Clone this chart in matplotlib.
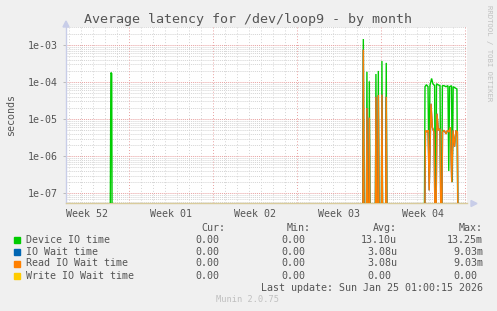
import numpy as np
import matplotlib
matplotlib.use('Agg')
from matplotlib import pyplot as plt
from matplotlib.patches import Rectangle, Polygon

# time axis: days since Mon Dec 29 2025 00:00 (start of Week 01)
week_starts = [0, 7, 14, 21, 28]
week_labels = ['Week 52', 'Week 01', 'Week 02', 'Week 03', 'Week 04']
week_label_pos = [-3.5, 3.5, 10.5, 17.5, 24.5]

# Device IO time (seconds)
t_device = [-1.58, -1.51, -1.44, -1.40,
            19.46, 19.53, 19.60, 19.77, 19.83, 19.90, 19.97, 20.03, 20.10,
            20.52, 20.58, 20.65, 20.72, 20.78, 20.85, 21.02, 21.08, 21.15,
            21.37, 21.44, 21.51,
            24.60, 24.67, 24.79, 24.92, 25.00, 25.08, 25.22, 25.33, 25.47,
            25.55, 25.63, 25.75, 25.92, 26.03, 26.12, 26.25, 26.42, 26.58,
            26.65, 26.72, 26.88, 26.94, 27.02, 27.17, 27.33, 27.43]
v_device = [0, 1.8e-4, 1.7e-4, 0,
            0, 1.45e-3, 0, 0, 1.9e-4, 0, 0, 1.05e-4, 0,
            0, 1.65e-4, 0, 0, 2.0e-4, 0, 0, 3.7e-4, 0,
            0, 3.3e-4, 0,
            0, 7.5e-5, 8.5e-5, 7.5e-5, 3e-7, 8e-5, 1.25e-4, 9e-5, 8e-5,
            0, 9e-5, 8.5e-5, 8e-5, 0, 8e-5, 8e-5, 7.5e-5, 8e-5,
            4e-7, 7.5e-5, 8e-5, 2e-7, 7.5e-5, 7e-5, 6.5e-5, 0]

# Read IO Wait time (IO Wait time is identical)
t_read = [19.48, 19.53, 19.60, 19.77, 19.83, 19.90, 19.97, 20.03, 20.10,
          20.52, 20.58, 20.65, 20.72, 20.78, 20.85, 21.02, 21.08, 21.15,
          21.37, 21.44, 21.51,
          24.62, 24.71, 24.83, 24.93, 25.02, 25.17, 25.28, 25.42, 25.55,
          25.67, 25.78, 25.92, 26.03, 26.13, 26.27, 26.42, 26.55, 26.67,
          26.78, 26.90, 27.00, 27.13, 27.25, 27.37, 27.43]
v_read = [0, 7.5e-4, 0, 0, 2e-5, 0, 0, 1.1e-5, 0,
          0, 4e-5, 0, 0, 4.5e-5, 0, 0, 4.6e-5, 0,
          0, 4e-5, 0,
          0, 5e-6, 4.5e-6, 5e-6, 1.2e-7, 2.6e-5, 6e-6, 4.5e-6, 0,
          1.4e-5, 5e-6, 5.5e-6, 0, 4.5e-6, 5e-6, 4e-6, 5e-6, 4.5e-6,
          6e-6, 2e-7, 5e-6, 1.8e-6, 5e-6, 4.5e-6, 0]
t_iowait = t_read
v_iowait = v_read
t_write = [-5.25, 28.17]
v_write = [0, 0]

legend_names = ['Device IO time', 'IO Wait time', 'Read IO Wait time', 'Write IO Wait time']
legend_colors = ['#00cc00', '#0066b3', '#ff8000', '#ffcc00']
cur_vals = ['0.00', '0.00', '0.00', '0.00']
min_vals = ['0.00', '0.00', '0.00', '0.00']
avg_vals = ['13.10u', '3.08u', '3.08u', '0.00']
max_vals = ['13.25m', '9.03m', '9.03m', '0.00']

W, H = 497, 311
mono = 'DejaVu Sans Mono'
txt_color = '#555555'


def fx(x):
    return x / W


def fy(y):
    return 1 - y / H


fig = plt.figure(figsize=(W / 100, H / 100), dpi=100, facecolor='#f0f0f0')
ax = fig.add_axes([fx(66), fy(203.3), (467 - 66) / W, (203.3 - 27) / H])
ax.set_facecolor('white')
ax.set_yscale('log')
ax.set_xlim(-5.25, 28.17)
ax.set_ylim(5.37e-8, 3.06e-3)

# grid
for d in np.arange(-5, 29):
    if d in week_starts:
        continue
    ax.axvline(d, color='#d4d4d4', lw=0.7, ls=(0, (1, 2)), zorder=0)
for d in week_starts:
    ax.axvline(d, color='#e8a0a0', lw=0.7, ls=(0, (1, 2)), zorder=0.5)
for e in range(-8, -2):
    for m in range(2, 10):
        ax.axhline(m * 10.0 ** e, color='#d4d4d4', lw=0.7, ls=(0, (1, 1)), zorder=0)
for e in range(-7, -2):
    ax.axhline(10.0 ** e, color='#e8a0a0', lw=0.7, ls=(0, (1, 1)), zorder=0.5)

floor = 1e-9
series = [(t_device, v_device), (t_iowait, v_iowait), (t_read, v_read), (t_write, v_write)]
for (t, v), c in zip(series, legend_colors):
    v = np.array(v, dtype=float)
    v[v <= 0] = floor
    ax.plot(t, v, color=c, lw=1.0, solid_joinstyle='miter', zorder=3)

# axes styling
for s in ['top', 'right']:
    ax.spines[s].set_visible(False)
ax.spines['left'].set_color('#c8cde8')
ax.spines['bottom'].set_color('#d9cc9c')
ax.spines['left'].set_linewidth(1.0)
ax.spines['bottom'].set_linewidth(1.0)

ax.set_yticks([1e-7, 1e-6, 1e-5, 1e-4, 1e-3])
ax.set_yticklabels(['1e-07', '1e-06', '1e-05', '1e-04', '1e-03'])
ax.yaxis.set_minor_locator(matplotlib.ticker.NullLocator())
ax.tick_params(axis='y', length=2, width=0.7, color='#bbbbbb', pad=4,
               labelsize=7.2, labelcolor=txt_color)
for lab in ax.get_yticklabels():
    lab.set_family(mono)

ax.set_xticks(week_label_pos)
ax.set_xticklabels(week_labels)
ax.tick_params(axis='x', length=0, pad=4, labelsize=7.2, labelcolor=txt_color)
for lab in ax.get_xticklabels():
    lab.set_family(mono)

# arrows at axis ends
fig.patches.append(Polygon([[fx(63), fy(27)], [fx(69), fy(27)], [fx(66), fy(21)]],
                           closed=True, color='#c8cde8', transform=fig.transFigure))
fig.patches.append(Polygon([[fx(471), fy(200.5)], [fx(471), fy(206.5)], [fx(477), fy(203.5)]],
                           closed=True, color='#c8cde8', transform=fig.transFigure))

# title and side texts
fig.text(fx(248), fy(19), 'Average latency for /dev/loop9 - by month', ha='center', va='center',
         family=mono, fontsize=9.6, color='#555555')
fig.text(fx(11), fy(115), 'seconds', rotation=90, ha='center', va='center',
         family=mono, fontsize=7.2, color=txt_color)
fig.text(fx(489), fy(5), 'RRDTOOL / TOBI OETIKER', rotation=270, ha='center', va='top',
         family=mono, fontsize=5.2, color='#c0c0c0')

# legend
fig.text(fx(225), fy(227.7), 'Cur:', ha='right', va='center', family=mono, fontsize=7.2, color=txt_color)
fig.text(fx(311), fy(227.7), 'Min:', ha='right', va='center', family=mono, fontsize=7.2, color=txt_color)
fig.text(fx(397), fy(227.7), 'Avg:', ha='right', va='center', family=mono, fontsize=7.2, color=txt_color)
fig.text(fx(483), fy(227.7), 'Max:', ha='right', va='center', family=mono, fontsize=7.2, color=txt_color)

rows_y = [239.7, 251.7, 263.5, 275.7]
col_right = [225, 311, 397, 483]
for i, (name, c) in enumerate(zip(legend_names, legend_colors)):
    y = rows_y[i]
    fig.patches.append(Rectangle((fx(14.3), fy(y + 3)), 6 / W, 6 / H, color=c,
                                 transform=fig.transFigure))
    fig.text(fx(26), fy(y), name, ha='left', va='center', family=mono, fontsize=7.2, color=txt_color)
    for xr, val in zip(col_right, [cur_vals[i], min_vals[i], avg_vals[i], max_vals[i]]):
        if not val[-1].isalpha():
            xr -= 6
        fig.text(fx(xr), fy(y), val, ha='right', va='center', family=mono, fontsize=7.2, color=txt_color)

fig.text(fx(483), fy(287.7), 'Last update: Sun Jan 25 01:00:15 2026', ha='right', va='center',
         family=mono, fontsize=7.2, color=txt_color)
fig.text(fx(248), fy(300), 'Munin 2.0.75', ha='center', va='center',
         family=mono, fontsize=6.2, color='#c0c0c0')

fig.savefig('out.png', dpi=100, facecolor=fig.get_facecolor())
